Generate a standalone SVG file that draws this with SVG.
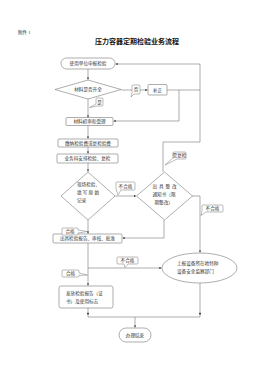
<svg xmlns="http://www.w3.org/2000/svg" width="280" height="381" viewBox="0 0 280 381">
<defs>
<marker id="ar" viewBox="0 0 6 6" refX="6" refY="3" markerWidth="3.5" markerHeight="3.5" orient="auto">
<path d="M0,0 L6,3 L0,6 z" fill="#222"/>
</marker>
<style>
.bx{fill:#fff;stroke:#777;stroke-width:0.6}
.ln{fill:none;stroke:#777;stroke-width:0.6}
.co{fill:#fff;stroke:#777;stroke-width:0.5}
text{font-family:"Liberation Serif","Noto Sans CJK SC",serif;fill:#333;font-size:4.6px}
.c{text-anchor:middle}
</style>
</defs>
<rect width="280" height="381" fill="#fff"/>
<text x="18" y="34" style="font-size:4.6px">附件 1</text>
<text x="137" y="44" class="c" style="font-size:7px;font-weight:bold;fill:#111">压力容器定期检验业务流程</text>

<g id="connectors">
<path class="ln" d="M88,69 V79.5" marker-end="url(#ar)"/>
<path class="ln" d="M88,99 V117.5" marker-end="url(#ar)"/>
<path class="ln" d="M121,90 H147.5" marker-end="url(#ar)"/>
<path class="ln" d="M167,90 H200"/>
<path class="ln" d="M179,90 V121 H113.5" marker-end="url(#ar)"/>
<path class="ln" d="M163,172 V142 H200 V64 H115.5" marker-end="url(#ar)"/>
<path class="ln" d="M88,125 V138.5" marker-end="url(#ar)"/>
<path class="ln" d="M88,147 V153.5" marker-end="url(#ar)"/>
<path class="ln" d="M88,163 V171.5" marker-end="url(#ar)"/>
<path class="ln" d="M115,196 H136" marker-end="url(#ar)"/>
<path class="ln" d="M88,220 V233.5" marker-end="url(#ar)"/>
<path class="ln" d="M164,220 V238 H122.5" marker-end="url(#ar)"/>
<path class="ln" d="M192,196 H200 V252.5" marker-end="url(#ar)"/>
<path class="ln" d="M88,243 V285.5" marker-end="url(#ar)"/>
<path class="ln" d="M88,268 H161.5" marker-end="url(#ar)"/>
<path class="ln" d="M88,308 V317"/>
<path class="ln" d="M200,283 V317"/>
<path class="ln" d="M88,317 H200"/>
<path class="ln" d="M88,312 V315" marker-end="url(#ar)"/>
<path class="ln" d="M200,312 V315" marker-end="url(#ar)"/>
<path class="ln" d="M135,317 V327.5" marker-end="url(#ar)"/>
</g>

<g id="n_start">
<rect class="bx" x="61" y="58" width="54" height="11" rx="5.5"/>
<text x="88" y="65.3" class="c">使用单位申报检验</text>
</g>
<g id="n_check">
<polygon class="bx" points="88,80 121,89.5 88,99 55,89.5"/>
<text x="88" y="91.3" class="c">材料是否齐全</text>
</g>
<g id="n_fix">
<rect class="bx" x="148" y="84.5" width="19" height="10.5" rx="1"/>
<text x="157.5" y="91.5" class="c">补正</text>
</g>
<g id="n_accept">
<rect class="bx" x="66" y="117.5" width="47" height="8" rx="1"/>
<text x="89.5" y="123.2" class="c">材料初审和受理</text>
</g>
<g id="n_fee">
<rect class="bx" x="58" y="139" width="60" height="8" rx="1"/>
<text x="88" y="144.7" class="c">缴纳检验费或复检验费</text>
</g>
<g id="n_arrange">
<rect class="bx" x="57" y="154" width="61" height="9" rx="1"/>
<text x="87.5" y="160.2" class="c">业务科安排检验、复检</text>
</g>
<g id="n_site">
<polygon class="bx" points="88,172 115,196 88,220 61,196"/>
<text x="77" y="186">现场检验、</text>
<text x="77" y="194" textLength="22">填写原始</text>
<text x="77" y="202">记录</text>
</g>
<g id="n_rect">
<polygon class="bx" points="164.5,172 192.5,196 164.5,220 136.5,196"/>
<text x="152.5" y="188" textLength="24">出具整改</text>
<text x="152.5" y="196">通知书（限</text>
<text x="154.5" y="204">期整改）</text>
</g>
<g id="n_report">
<rect class="bx" x="53" y="234" width="69" height="9" rx="1"/>
<text x="87.5" y="240.2" class="c">出具检验报告、审核、批准</text>
</g>
<g id="n_issue">
<rect class="bx" x="59" y="286" width="54" height="22" rx="2"/>
<text x="66" y="295">发放检验报告（证</text>
<text x="66" y="303">书）及使用标志</text>
</g>
<g id="n_report_up">
<ellipse class="bx" cx="199.5" cy="268" rx="37.5" ry="15"/>
<text x="177" y="265">上报设备所在地特种</text>
<text x="177" y="273">设备安全监察部门</text>
</g>
<g id="n_end">
<rect class="bx" x="119" y="328" width="32" height="14" rx="7"/>
<text x="135" y="336.7" class="c">办理结束</text>
</g>

<g id="labels">
<path class="co" d="M97,98 H102 Q103,98 103,99 V105 Q103,106 102,106 H97 L89.5,107.5 L96,104 V99 Q96,98 97,98 z"/>
<text x="99.5" y="104" class="c">是</text>
<path class="co" d="M133,85 H139 Q140,85 140,86 V93 Q140,94 139,94 H134 L131,97 L132,93 V86 Q132,85 133,85 z"/>
<text x="136" y="91.3" class="c">否</text>
<path class="co" d="M174,152 H185 Q186,152 186,153 V158 Q186,159 185,159 H177 L165,165 L173,158 V153 Q173,152 174,152 z"/>
<text x="179.5" y="157.3" class="c">需复检</text>
<path class="co" d="M117,182 H134 Q135,182 135,183 V189 Q135,190 134,190 H121 L118,195 L116,189 V183 Q116,182 117,182 z"/>
<text x="125.5" y="187.8" class="c">不合格</text>
<path class="co" d="M63,228 H77 Q78,228 78,229 V230 L87.5,231.5 L78,233 V234 Q78,235 77,235 H63 Q62,235 62,234 V229 Q62,228 63,228 z"/>
<text x="70" y="233.3" class="c">合格</text>
<path class="co" d="M203,205 H222 Q223,205 223,206 V211 Q223,212 222,212 H206 L201,215.5 L202,211 V206 Q202,205 203,205 z"/>
<text x="212.5" y="210.3" class="c">不合格</text>
<path class="co" d="M118,257 H137 Q138,257 138,258 V263 Q138,264 137,264 H128 L125,267.5 L124,264 H118 Q117,264 117,263 V258 Q117,257 118,257 z"/>
<text x="127.5" y="262.3" class="c">不合格</text>
<path class="co" d="M63,270 H78 Q79,270 79,271 V273 L87.5,275 L79,275.5 V276 Q79,277 78,277 H63 Q62,277 62,276 V271 Q62,270 63,270 z"/>
<text x="70.5" y="275.3" class="c">合格</text>
</g>
</svg>
